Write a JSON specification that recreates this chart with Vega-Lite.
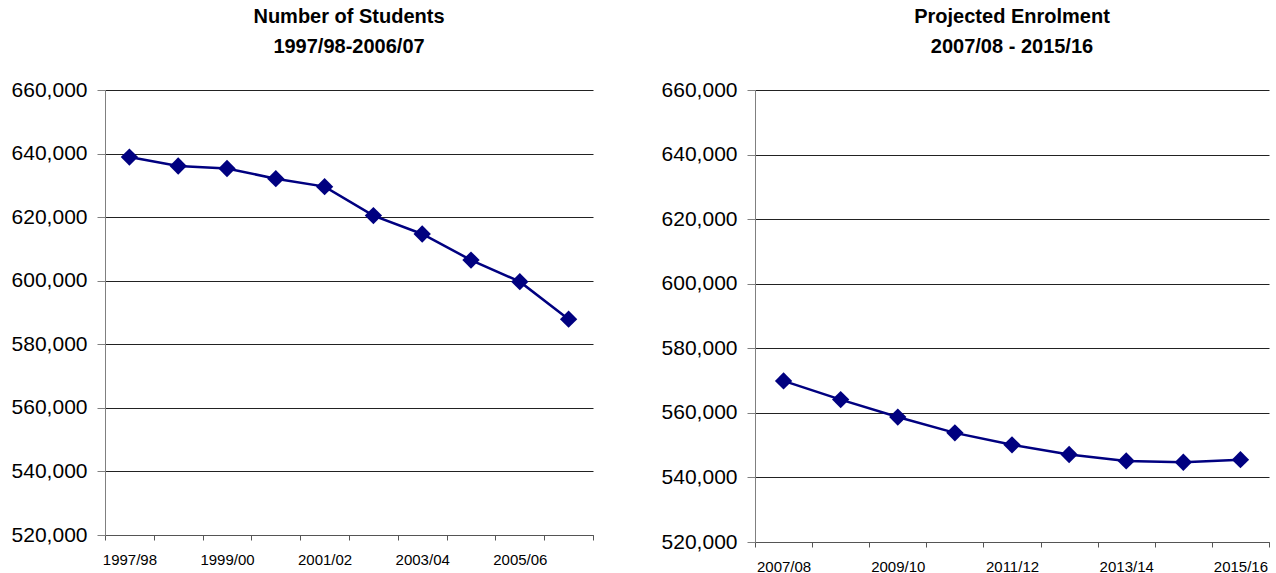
{
  "$schema": "https://vega.github.io/schema/vega-lite/v6.json",
  "background": "white",
  "padding": {"left": 11, "top": 7, "right": 0, "bottom": 0},
  "spacing": 67,
  "config": {
    "font": "Liberation Sans",
    "view": {"stroke": null},
    "title": {"fontSize": 20, "fontWeight": "bold", "lineHeight": 30, "anchor": "middle", "baseline": "top", "offset": 22, "color": "black", "font": "Liberation Sans"},
    "axisY": {"labelFontSize": 21, "labelColor": "black", "labelFont": "Liberation Sans", "tickSize": 8, "labelPadding": 10, "tickColor": "#808080", "domainColor": "#808080", "gridColor": "#222222", "gridWidth": 1, "title": null},
    "axisX": {"labelFontSize": 15, "labelColor": "black", "labelFont": "Liberation Sans", "tickSize": 5, "labelPadding": 12, "tickColor": "#555555", "domainColor": "#555555", "grid": false, "labelAngle": 0, "title": null, "tickBand": "extent"}
  },
  "hconcat": [
    {
      "width": 488,
      "height": 445,
      "title": {"text": ["Number of Students", "1997/98-2006/07"]},
      "data": {"values": [
        {"year": "1997/98", "students": 638900},
        {"year": "1998/99", "students": 636100},
        {"year": "1999/00", "students": 635300},
        {"year": "2000/01", "students": 632100},
        {"year": "2001/02", "students": 629600},
        {"year": "2002/03", "students": 620500},
        {"year": "2003/04", "students": 614700},
        {"year": "2004/05", "students": 606500},
        {"year": "2005/06", "students": 599700},
        {"year": "2006/07", "students": 587900}
      ]},
      "encoding": {
        "x": {"field": "year", "type": "ordinal", "sort": null,
              "scale": {"type": "band", "paddingInner": 0, "paddingOuter": 0},
              "axis": {"labelExpr": "indexof(['1997/98','1999/00','2001/02','2003/04','2005/06'], datum.value) >= 0 ? datum.label : ''"}},
        "y": {"field": "students", "type": "quantitative",
              "scale": {"domain": [520000, 660000], "nice": false, "zero": false},
              "axis": {"values": [520000, 540000, 560000, 580000, 600000, 620000, 640000, 660000], "format": ",.0f"}}
      },
      "layer": [
        {"mark": {"type": "line", "color": "#000080", "strokeWidth": 2.5}},
        {"mark": {"type": "point", "shape": "diamond", "filled": true, "size": 300, "color": "#000080", "opacity": 1}}
      ]
    },
    {
      "width": 514,
      "height": 452,
      "title": {"text": ["Projected Enrolment", "2007/08 - 2015/16"]},
      "data": {"values": [
        {"year": "2007/08", "students": 569900},
        {"year": "2008/09", "students": 564100},
        {"year": "2009/10", "students": 558700},
        {"year": "2010/11", "students": 553800},
        {"year": "2011/12", "students": 550100},
        {"year": "2012/13", "students": 547100},
        {"year": "2013/14", "students": 545100},
        {"year": "2014/15", "students": 544700},
        {"year": "2015/16", "students": 545500}
      ]},
      "encoding": {
        "x": {"field": "year", "type": "ordinal", "sort": null,
              "scale": {"type": "band", "paddingInner": 0, "paddingOuter": 0},
              "axis": {"labelExpr": "indexof(['2007/08','2009/10','2011/12','2013/14','2015/16'], datum.value) >= 0 ? datum.label : ''"}},
        "y": {"field": "students", "type": "quantitative",
              "scale": {"domain": [520000, 660000], "nice": false, "zero": false},
              "axis": {"values": [520000, 540000, 560000, 580000, 600000, 620000, 640000, 660000], "format": ",.0f"}}
      },
      "layer": [
        {"mark": {"type": "line", "color": "#000080", "strokeWidth": 2.5}},
        {"mark": {"type": "point", "shape": "diamond", "filled": true, "size": 300, "color": "#000080", "opacity": 1}}
      ]
    }
  ]
}
